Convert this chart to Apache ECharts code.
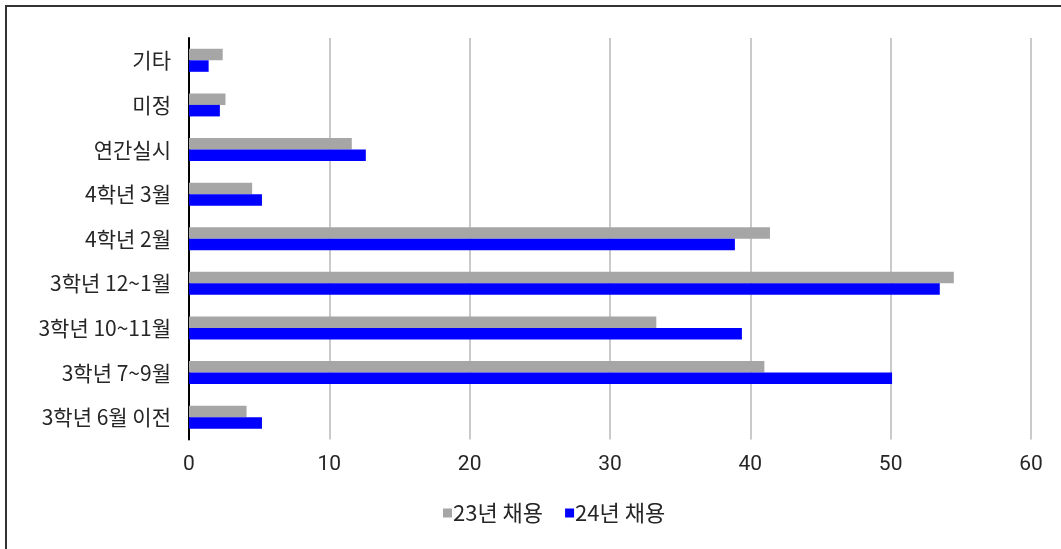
<!DOCTYPE html>
<html>
<head>
<meta charset="utf-8">
<script src="https://cdn.jsdelivr.net/npm/echarts@6/dist/echarts.min.js"></script>
<style>
  html, body { margin: 0; padding: 0; background: #fff; }
  #frame { position: absolute; left: 5px; top: 5px; width: 1056px; height: 544px;
           border-top: 2px solid #333; border-left: 2px solid #333; box-sizing: border-box; }
  #chart { position: absolute; left: 0; top: 0; width: 1061px; height: 549px; }
</style>
</head>
<body>
<div id="frame"></div>
<div id="chart"></div>
<script>
// Hiring timing categories, listed top to bottom
const categories = ['기타', '미정', '연간실시', '4학년 3월', '4학년 2월', '3학년 12~1월', '3학년 10~11월', '3학년 7~9월', '3학년 6월 이전'];
const seriesNames = ['23년 채용', '24년 채용'];
const hire23 = [2.4, 2.6, 11.6, 4.5, 41.4, 54.5, 33.3, 41.0, 4.1];
const hire24 = [1.4, 2.2, 12.6, 5.2, 38.9, 53.5, 39.4, 50.1, 5.2];
const xTicks = [0, 10, 20, 30, 40, 50, 60];

const chart = echarts.init(document.getElementById('chart'), null, { renderer: 'canvas' });
const kr = '"Noto Sans CJK KR", "Noto Sans", sans-serif';
const ink = '#262626';

chart.setOption({
  animation: false,
  grid: { left: 189, right: 30, top: 38, bottom: 109.5, containLabel: false },
  legend: {
    data: seriesNames,
    left: 438,
    top: 497,
    icon: 'rect',
    itemWidth: 9,
    itemHeight: 9,
    itemGap: 22,
    textStyle: { fontFamily: kr, fontSize: 22, color: ink, padding: [0, 0, 0, -4] }
  },
  xAxis: {
    type: 'value',
    min: xTicks[0],
    max: xTicks[xTicks.length - 1],
    interval: 10,
    axisLine: { show: false },
    axisTick: { show: false },
    axisLabel: { fontFamily: 'Roboto, sans-serif', fontSize: 21, color: ink, margin: 15 },
    splitLine: { show: true, lineStyle: { color: '#b8b8b8', width: 1.5 } }
  },
  yAxis: {
    type: 'category',
    data: categories,
    inverse: true,
    axisLine: { show: true, lineStyle: { color: '#000', width: 2 } },
    axisTick: { show: false },
    axisLabel: { fontFamily: kr, fontSize: 21, color: ink, margin: 18 }
  },
  series: [
    {
      name: seriesNames[0], type: 'bar', data: hire23,
      barWidth: 11.5, barGap: '0%',
      itemStyle: { color: '#a6a6a6' }
    },
    {
      name: seriesNames[1], type: 'bar', data: hire24,
      barWidth: 11.5, barGap: '0%',
      itemStyle: { color: '#0000ff' }
    }
  ]
});
</script>
</body>
</html>
